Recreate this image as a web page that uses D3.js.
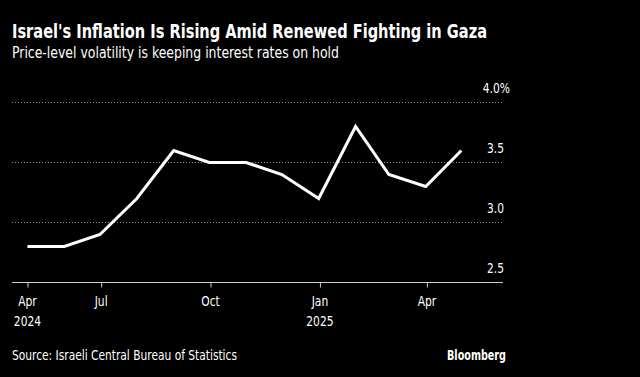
<!DOCTYPE html>
<html>
<head>
<meta charset="utf-8">
<script src="https://cdn.jsdelivr.net/npm/d3@7"></script>
<style>
  body { margin: 0; background: #000; }
  svg { display: block; }
  text { fill: #fff; }
</style>
</head>
<body>
<div id="chart"></div>
<script>
// Israel CPI, y/y %, month-end
const months = ["2024-04-30", "2024-05-31", "2024-06-30", "2024-07-31", "2024-08-31", "2024-09-30",
  "2024-10-31", "2024-11-30", "2024-12-31", "2025-01-31", "2025-02-28", "2025-03-31", "2025-04-30"];
const inflation = [2.8, 2.8, 2.9, 3.2, 3.6, 3.5, 3.5, 3.4, 3.2, 3.8, 3.4, 3.3, 3.6];
const yTicks = [2.5, 3.0, 3.5, 4.0];
const xTicks = ["2024-04-30", "2024-07-01", "2024-10-01", "2025-01-01", "2025-04-01"];
const xTickLabels = [["Apr", "2024"], ["Jul"], ["Oct"], ["Jan", "2025"], ["Apr"]];

const width = 640, height = 377;
const parse = d3.timeParse("%Y-%m-%d");
const data = months.map((m, i) => ({ date: parse(m), value: inflation[i] }));

const svg = d3.select("#chart")
  .append("svg")
    .attr("width", width)
    .attr("height", height);

const font = "'DejaVu Sans Condensed', 'DejaVu Sans', sans-serif";

// squeeze text horizontally to mimic the narrow Bloomberg face
function squeeze(sel, k) {
  sel.each(function() {
    const w = this.getComputedTextLength();
    d3.select(this).attr("textLength", w * k).attr("lengthAdjust", "spacingAndGlyphs");
  });
}

svg.append("text")
  .attr("x", 12).attr("y", 38)
  .attr("font-family", font)
  .attr("font-weight", "bold")
  .attr("font-size", 19)
  .text("Israel's Inflation Is Rising Amid Renewed Fighting in Gaza")
  .attr("textLength", 475).attr("lengthAdjust", "spacingAndGlyphs");

svg.append("text")
  .attr("x", 12).attr("y", 58)
  .attr("font-family", font)
  .attr("font-size", 16)
  .text("Price-level volatility is keeping interest rates on hold")
  .attr("textLength", 327).attr("lengthAdjust", "spacingAndGlyphs");

const x = d3.scaleTime()
  .domain([parse("2024-04-17"), parse("2025-06-04")])
  .range([12, 503]);

const y = d3.scaleLinear()
  .domain([2.5, 4.0])
  .range([282.5, 102.5]);

// gridlines
svg.append("g")
  .selectAll("line")
  .data(yTicks.filter(d => d > 2.5))
  .enter().append("line")
    .attr("x1", 12).attr("x2", 503)
    .attr("y1", d => y(d)).attr("y2", d => y(d))
    .attr("stroke", "#8a8a8a")
    .attr("stroke-width", 1)
    .attr("stroke-dasharray", "1,2");

// y labels
const yLabels = svg.append("g")
  .selectAll("text")
  .data(yTicks)
  .enter().append("text")
    .attr("x", d => d === 4.0 ? 510 : 504)
    .attr("y", d => y(d) - 10)
    .attr("text-anchor", "end")
    .attr("font-family", font)
    .attr("font-size", 14)
    .text(d => d.toFixed(1) + (d === 4.0 ? "%" : ""));
squeeze(yLabels, 0.85);

// x axis
const xAxis = svg.append("g")
  .attr("transform", `translate(0,${y(2.5)})`)
  .call(d3.axisBottom(x)
    .tickValues(xTicks.map(parse))
    .tickSize(5)
    .tickFormat(""));
xAxis.select(".domain").attr("stroke", "#cfcfcf").attr("d", "M12,0H503");
xAxis.selectAll(".tick line").attr("stroke", "#cfcfcf");

const labels = svg.append("g")
  .selectAll("g")
  .data(xTicks)
  .enter().append("g")
    .attr("transform", d => `translate(${x(parse(d))},306)`);
const lbl = labels.selectAll("text")
  .data((d, i) => xTickLabels[i])
  .enter().append("text")
    .attr("x", 0)
    .attr("y", (d, i) => i * 20)
    .attr("text-anchor", "middle")
    .attr("font-family", font)
    .attr("font-size", 14)
    .text(d => d);
squeeze(lbl, 0.85);

// line
const line = d3.line()
  .x(d => x(d.date))
  .y(d => y(d.value));

svg.append("path")
  .datum(data)
  .attr("fill", "none")
  .attr("stroke", "#fff")
  .attr("stroke-width", 3)
  .attr("stroke-linejoin", "miter")
  .attr("d", line);

svg.append("text")
  .attr("x", 12).attr("y", 360)
  .attr("font-family", font)
  .attr("font-size", 14)
  .text("Source: Israeli Central Bureau of Statistics")
  .attr("textLength", 225).attr("lengthAdjust", "spacingAndGlyphs");

svg.append("text")
  .attr("x", 506).attr("y", 360)
  .attr("text-anchor", "end")
  .attr("font-family", font)
  .attr("font-weight", "bold")
  .attr("font-size", 14)
  .text("Bloomberg")
  .attr("textLength", 59).attr("lengthAdjust", "spacingAndGlyphs");
</script>
</body>
</html>
